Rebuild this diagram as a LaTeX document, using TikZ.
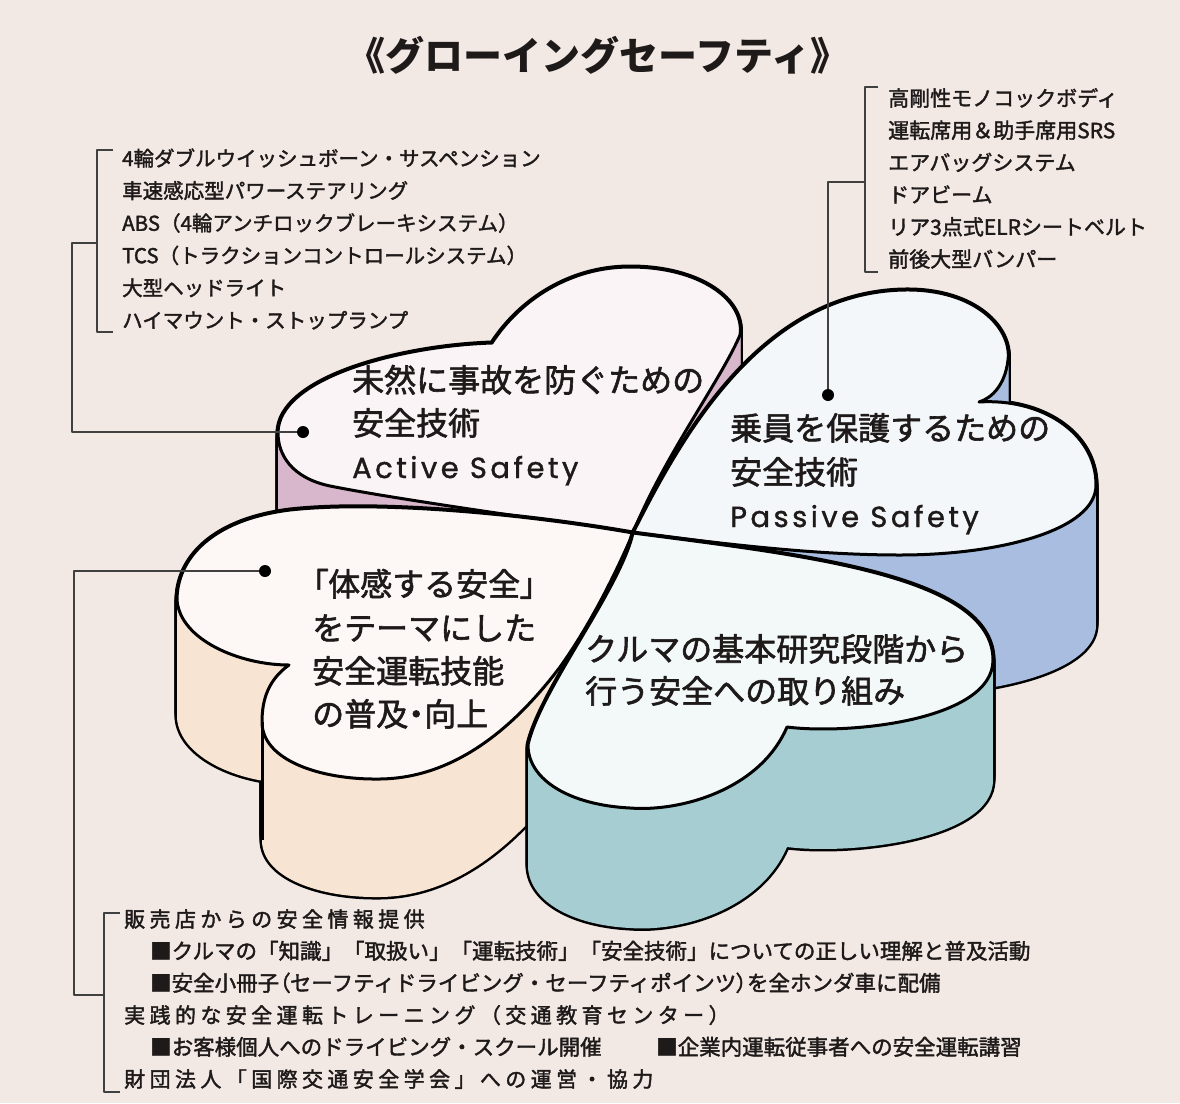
\documentclass[tikz,border=0pt]{standalone}
\usepackage{fontspec}
\usepackage[dvipsnames]{xcolor}
\usepackage{tikz}
\setmainfont{Noto Sans CJK JP}
\newfontfamily\jp{Noto Sans CJK JP}[FakeBold=1.8]
\newfontfamily\jpp{Noto Sans CJK JP}[RawFeature=+palt, FakeBold=1.8]
\newfontfamily\jpt{Noto Sans CJK JP}
\newfontfamily\lat{Poppins}[LetterSpace=12, FakeBold=1.2]
\newcommand{\sz}[1]{\fontsize{#1pt}{#1pt}\selectfont}

% Farben.
\definecolor{grund}{RGB}{242,232,228}
\definecolor{rosaW}{RGB}{216,182,203}
\definecolor{rosaF}{RGB}{251,244,247}
\definecolor{blauW}{RGB}{168,189,224}
\definecolor{blauF}{RGB}{244,247,250}
\definecolor{pfirW}{RGB}{248,228,210}
\definecolor{pfirF}{RGB}{253,248,246}
\definecolor{tuerW}{RGB}{166,206,210}
\definecolor{tuerF}{RGB}{243,248,248}
\definecolor{tinte}{RGB}{30,26,26}

% Herzen (Oberseite).
\newcommand{\herzOL}{(633,533) .. controls (560,522) and (400,500) .. (330,486)
    .. controls (292,478) and (278,455) .. (278,433)
    .. controls (278,378) and (400,346) .. (492,343)
    .. controls (520,300) and (570,267) .. (630,267)
    .. controls (700,267) and (745,300) .. (740,335)
    .. controls (722,378) and (663,458) .. (633,533) -- cycle}
\newcommand{\herzOR}{(633,533) .. controls (680,440) and (760,292) .. (905,290)
    .. controls (975,289) and (1012,328) .. (1008,360)
    .. controls (1005,385) and (992,398) .. (979,402)
    .. controls (1040,398) and (1096,432) .. (1096,485)
    .. controls (1096,530) and (1000,555) .. (900,555)
    .. controls (800,555) and (700,540) .. (633,533) -- cycle}
\newcommand{\herzUL}{(633,533) .. controls (530,515) and (380,500) .. (290,510)
    .. controls (210,520) and (177,560) .. (177,600)
    .. controls (180,640) and (240,665) .. (289,665)
    .. controls (268,680) and (262,700) .. (262,722)
    .. controls (262,760) and (320,780) .. (380,779)
    .. controls (460,778) and (520,720) .. (560,667)
    .. controls (590,625) and (615,575) .. (633,533) -- cycle}
\newcommand{\herzUR}{(633,533) .. controls (800,555) and (993,575) .. (993,660)
    .. controls (993,720) and (850,735) .. (787,727)
    .. controls (760,790) and (680,812) .. (630,808)
    .. controls (570,805) and (528,780) .. (528,745)
    .. controls (540,690) and (620,590) .. (633,533) -- cycle}

% Herz mit Wand: Pfad, Tiefe, Wandfarbe, Flaechenfarbe.
\newcommand{\klotz}[4]{%
    \foreach \d in {0,2,...,#2} {\draw[line width=5pt, shift={(0,\d)}] #1;}
    \foreach \d in {0,2,...,#2} {\fill[#3, shift={(0,\d)}] #1;}
    \draw[line width=3pt, fill=#4] #1;
}

\begin{document}
\begin{tikzpicture}[x=1pt, y=-1pt, line join=round,
    punkt/.style={circle, fill=black, inner sep=0pt, minimum size=12pt},
    klammer/.style={line width=1.6pt, color=black!75},
    titel/.style={anchor=base, inner sep=0pt, text=tinte, font=\jpt\bfseries\sz{39}},
    liste/.style={anchor=base west, inner sep=0pt, text=tinte, font=\jp\sz{20.5}},
    ebeneA/.style={anchor=base west, inner sep=0pt, text=tinte, font=\jp\sz{21}\addfontfeature{LetterSpace=21}},
    ebeneB/.style={anchor=base west, inner sep=0pt, text=tinte, font=\jp\sz{21.5}},
    herzschrift/.style={anchor=base west, inner sep=0pt, text=tinte, font=\jp\sz{32}},
    latein/.style={anchor=base west, inner sep=0pt, text=tinte, font=\lat\sz{29}}]

    \useasboundingbox (0,0) rectangle (1180,1103);
    \fill[grund] (0,0) rectangle (1180,1103);

    % Herzen.
    \klotz{\herzOL}{120}{rosaW}{rosaF}
    \klotz{\herzOR}{140}{blauW}{blauF}
    \klotz{\herzUL}{118}{pfirW}{pfirF}
    \klotz{\herzUR}{120}{tuerW}{tuerF}
    \draw[line width=3pt] (262,722) -- (262,840);

    % Linien.
    \node[punkt] (olpunkt) at (303,432) {};
    \node[punkt] (orpunkt) at (828,395) {};
    \node[punkt] (ulpunkt) at (265,571) {};
    \coordinate (olstub) at (97,243);
    \coordinate (orstub) at (865,182);
    \coordinate (ustub) at (104,995);

    \draw[klammer] (113,150) -- (97,150) -- (97,332) -- (113,332);
    \draw[klammer] (olstub) -- (72,243) |- (olpunkt);
    \draw[klammer] (878,87) -- (865,87) -- (865,272) -- (878,272);
    \draw[klammer] (orstub) -| (orpunkt);
    \draw[klammer] (120,913) -- (104,913) -- (104,1092) -- (120,1092);
    \draw[klammer] (ustub) -- (74,995) |- (ulpunkt);

    % Beschriftung.
    \node[titel] (titel) at (598,70) {《グローイングセーフティ》};

    \foreach \t [count=\i from 0] in {4輪ダブルウイッシュボーン・サスペンション,
        車速感応型パワーステアリング, ABS（4輪アンチロックブレーキシステム）,
        TCS（トラクションコントロールシステム）, 大型ヘッドライト,
        ハイマウント・ストップランプ}
    {
        \node[liste] (ol\i) at (122,166+32.4*\i) {\t};
    }
    \foreach \t [count=\i from 0] in {高剛性モノコックボディ, 運転席用＆助手席用SRS,
        エアバッグシステム, ドアビーム, リア3点式ELRシートベルト, 前後大型バンパー}
    {
        \node[liste, font=\jp\sz{21}] (or\i) at (888,106+32.2*\i) {\t};
    }

    \node[herzschrift] (ol1) at (352,392) {未然に事故を防ぐための};
    \node[herzschrift] (ol2) at (352,435) {安全技術};
    \node[latein]      (ol3) at (352,478) {Active Safety};
    \node[herzschrift] (or1) at (730,440) {乗員を保護するための};
    \node[herzschrift] (or2) at (730,484) {安全技術};
    \node[latein]      (or3) at (730,527) {Passive Safety};
    \node[herzschrift] (ul1) at (312,596) {{\jpp 「}体感する安全{\jpp 」}};
    \node[herzschrift] (ul2) at (312,640) {をテーマにした};
    \node[herzschrift] (ul3) at (312,683) {安全運転技能};
    \node[herzschrift] (ul4) at (312,726) {の普及{\jpp ・}向上};
    \node[herzschrift] (ur1) at (585,661) {クルマの基本研究段階から};
    \node[herzschrift] (ur2) at (585,703) {行う安全への取り組み};

    \node[ebeneA] (u1)  at (124,927)  {販売店からの安全情報提供};
    \node[ebeneB] (u2)  at (150,959)  {■クルマの「知識」「取扱い」「運転技術」「安全技術」についての正しい理解と普及活動};
    \node[ebeneB] (u3)  at (150,991)  {■安全小冊子{\jpp （}セーフティドライビング・セーフティポインツ{\jpp ）}を全ホンダ車に配備};
    \node[ebeneA] (u4)  at (124,1023) {実践的な安全運転トレーニング（交通教育センター）};
    \node[ebeneB] (u5a) at (150,1055) {■お客様個人へのドライビング・スクール開催};
    \node[ebeneB] (u5b) at (656,1055) {■企業内運転従事者への安全運転講習};
    \node[ebeneA] (u6)  at (124,1087) {財団法人「国際交通安全学会」への運営・協力};
\end{tikzpicture}
\end{document}
